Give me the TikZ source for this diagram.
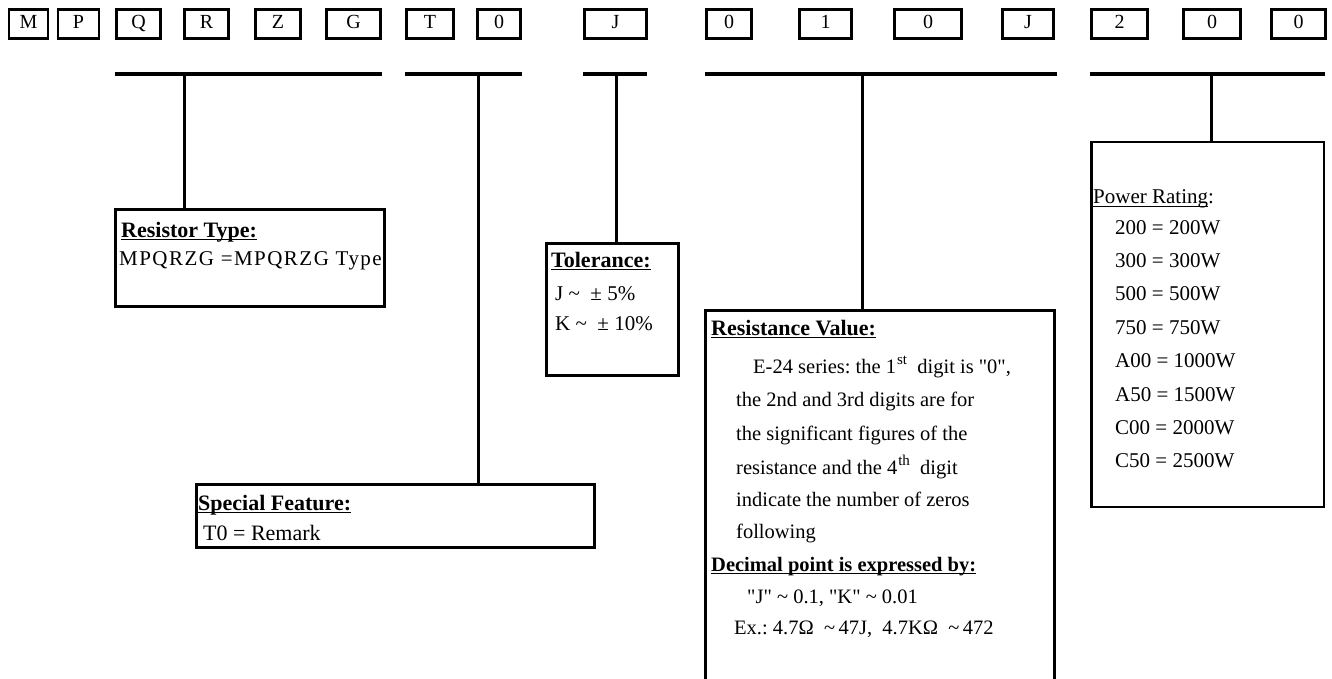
\documentclass[tikz,border=0pt]{standalone}
\usepackage{fontspec}
\setmainfont{Liberation Serif}
\frenchspacing
\newsavebox\ulbox
\newcommand{\myul}[1]{\sbox\ulbox{#1}\rlap{\rule[-3pt]{\wd\ulbox}{1.5pt}}\usebox\ulbox}
\newcommand{\supsm}[1]{\kern1pt\raisebox{9pt}{\fontsize{15}{15}\selectfont #1}}
\newcommand{\tl}{\textasciitilde}
\newcommand{\qd}{{\XeTeXglyph\XeTeXglyphindex "quotedbl"\relax}}
\begin{document}
\begin{tikzpicture}[x=1pt,y=-1pt,
  lbox/.style={draw, line width=3.2pt, minimum height=29pt, inner sep=0pt,
    text height=10pt, text depth=0pt, font=\fontsize{20}{24}\selectfont},
  lboxthin/.style={lbox, line width=2.4pt},
  bar/.style={line width=3.2pt},
  stem/.style={line width=3pt},
  dbox/.style={draw, line width=3pt, inner sep=0pt},
  txt/.style={anchor=base west, inner sep=0pt, font=\fontsize{21}{24}\selectfont},
  head/.style={anchor=base west, inner sep=0pt, font=\fontsize{22}{24}\selectfont\bfseries},
  rtxt/.style={anchor=base west, inner sep=0pt, font=\fontsize{20.5}{24}\selectfont},
]
\useasboundingbox (0,0) rectangle (1332,679);
% top code letters
\node[lboxthin, minimum width=38.6] (cM) at (28.5,24) {M};
\node[lboxthin, minimum width=40.6] (cP) at (78.5,24) {P};
\node[lbox, minimum width=44] (cQ) at (138.5,24) {Q};
\node[lbox, minimum width=44] (cR) at (206.5,24) {R};
\node[lbox, minimum width=45] (cZ) at (278,24) {Z};
\node[lbox, minimum width=54] (cG) at (353.5,24) {G};
\node[lbox, minimum width=47] (cT) at (430,24) {T};
\node[lbox, minimum width=43] (cO1) at (499,24) {0};
\node[lbox, minimum width=62] (cJ1) at (615.5,24) {J};
\node[lbox, minimum width=45] (cO2) at (729,24) {0};
\node[lbox, minimum width=52] (cI) at (825.5,24) {1};
\node[lbox, minimum width=67] (cO3) at (928,24) {0};
\node[lbox, minimum width=51] (cJ2) at (1028,24) {J};
\node[lbox, minimum width=56] (cTwo) at (1119.5,24) {2};
\node[lbox, minimum width=57] (cO4) at (1212,24) {0};
\node[lbox, minimum width=54] (cO5) at (1298.5,24) {0};
% bars
\coordinate (b1a) at (115,74); \coordinate (b1b) at (382,74); \coordinate (b1s) at (184,74);
\coordinate (b2a) at (405,74); \coordinate (b2b) at (522,74); \coordinate (b2s) at (478,74);
\coordinate (b3a) at (583,74); \coordinate (b3b) at (647,74); \coordinate (b3s) at (616,74);
\coordinate (b4a) at (705,74); \coordinate (b4b) at (1057,74); \coordinate (b4s) at (862,74);
\coordinate (b5a) at (1090,74); \coordinate (b5b) at (1325,74); \coordinate (b5s) at (1211,74);
\foreach \b in {b1,b2,b3,b4,b5} {\draw[bar] (\b a) -- (\b b);}
% description boxes
\node[dbox, minimum width=269, minimum height=97] (rt) at (250,258) {};
\node[dbox, minimum width=132, minimum height=132] (tol) at (612.5,309.5) {};
\node[dbox, minimum width=349, minimum height=400] (res) at (880,510.5) {};
\node[dbox, line width=2.5pt, minimum width=232.5, minimum height=364.5] (pow) at (1207.5,324.5) {};
\node[dbox, minimum width=398, minimum height=63] (sf) at (395.5,516) {};
% stems
\draw[stem] (b1s) -- (b1s |- rt.north);
\draw[stem] (b2s) -- (b2s |- sf.north);
\draw[stem] (b3s) -- (b3s |- tol.north);
\draw[stem] (b4s) -- (b4s |- res.north);
\draw[stem] (b5s) -- (b5s |- pow.north);
% resistor type
\node[head] (rth) at (121,237) {\myul{Resistor Type:}};
\node[txt] (rtb) at (119,265) {\addfontfeature{LetterSpace=7}MPQRZG =MPQRZG Type};
% tolerance
\node[head] (tolh) at (551,267) {\myul{Tolerance:}};
\node[txt] (tol1) at (555,300) {J \tl{}\ \ ± 5\%};
\node[txt] (tol2) at (555,330) {K \tl{}\ \ ± 10\%};
% special feature
\node[head] (sfh) at (198,510) {\myul{Special Feature:}};
\node[txt, font=\fontsize{22}{24}\selectfont] (sfb) at (203,540) {T0 = Remark};
% resistance value
\node[head] (resh) at (711,335) {\myul{Resistance Value:}};
\node[rtxt] (r1) at (753,373) {E-24 series: the 1\supsm{st}\ \ digit is \qd0\qd,};
\node[rtxt] (r2) at (736,406) {the 2nd and 3rd digits are for};
\node[rtxt] (r3) at (736,440) {the significant figures of the};
\node[rtxt] (r4) at (736,474) {resistance and the 4\supsm{th}\ \ digit};
\node[rtxt] (r5) at (736,506) {indicate the number of zeros};
\node[rtxt] (r6) at (736,538) {following};
\node[head, font=\fontsize{20.5}{24}\selectfont\bfseries] (resd) at (711,571) {\myul{Decimal point is expressed by:}};
\node[rtxt] (r7) at (747,603) {\qd J\qd\ \tl{} 0.1, \qd K\qd\ \tl{} 0.01};
\node[rtxt] (r8) at (734,634) {Ex.: 4.7Ω\ \ \tl{}\,47J,\ \ 4.7KΩ\ \ \tl{}\,472};
% power rating
\node[txt] (powh) at (1093,204) {\myul{Power Rating}:};
\node[txt] (p1) at (1115,234) {200 = 200W};
\node[txt] (p2) at (1115,267.4) {300 = 300W};
\node[txt] (p3) at (1115,300.8) {500 = 500W};
\node[txt] (p4) at (1115,334.2) {750 = 750W};
\node[txt] (p5) at (1115,367.6) {A00 = 1000W};
\node[txt] (p6) at (1115,401) {A50 = 1500W};
\node[txt] (p7) at (1115,434.4) {C00 = 2000W};
\node[txt] (p8) at (1115,467.8) {C50 = 2500W};
\end{tikzpicture}
\end{document}
